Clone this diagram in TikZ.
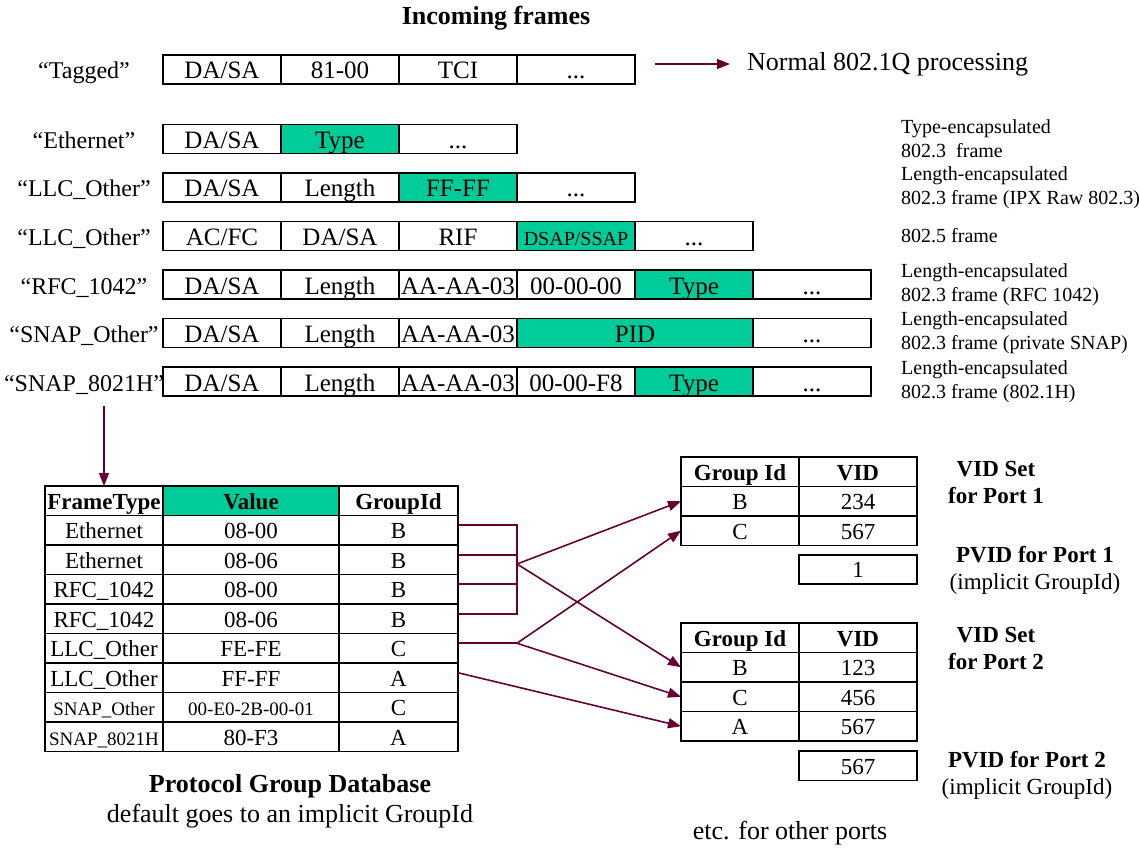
\documentclass[tikz,border=0pt]{standalone}
\usepackage{fontspec}
\setmainfont{Liberation Serif}
\usetikzlibrary{arrows.meta, positioning}
\definecolor{hlgreen}{RGB}{0,204,153}
\definecolor{wine}{RGB}{102,0,51}
\newcommand\fsz[2]{\fontsize{#1}{#2}\selectfont}

\begin{document}
\begin{tikzpicture}[x=1pt, y=-1pt, node distance=0pt,
    field/.style={draw, line width=1.8pt, outer sep=0pt, inner sep=0pt, minimum width=118pt,
      text height=24pt, text depth=5pt, font=\fsz{25}{25}},
    hl/.style={fill=hlgreen},
    lbl/.style={inner sep=0pt, text height=24pt, text depth=5pt, font=\fsz{24}{24}},
    note/.style={anchor=west, align=left, inner sep=0pt, font=\fsz{20}{24}},
    cell/.style={draw, line width=1.8pt, outer sep=0pt, inner sep=0pt, minimum width=118pt,
      text height=23pt, text depth=6.5pt, font=\fsz{23}{23}},
    head/.style={cell, font=\bfseries\fsz{23}{23}},
    side/.style={align=center, inner sep=0pt, font=\fsz{23}{27}},
    link/.style={wine, line width=1.6pt},
    arr/.style={link, -{Triangle[length=13pt, width=10pt]}}]
    \useasboundingbox (0,0) rectangle (1139,850);

    \node[font=\bfseries\fsz{26}{26}] (title) at (496,18) {Incoming frames};

    % incoming frame formats
    \node[lbl] (l-tag) at (84,69.5) {``Tagged''};
    \node[field] (tag-1) at (222,69.5) {DA/SA};
    \node[field, right=of tag-1] (tag-2) {81-00};
    \node[field, right=of tag-2] (tag-3) {TCI};
    \node[field, right=of tag-3] (tag-4) {...};
    \node[anchor=west, inner sep=0pt, font=\fsz{26}{26}] (normal) at (747,64) {Normal 802.1Q processing};
    \draw[arr, shorten <=20pt, shorten >=17pt] (tag-4.east |- normal.west) -- (normal.west);

    \node[lbl] (l-eth) at (84,139) {``Ethernet''};
    \node[field] (eth-1) at (222,139) {DA/SA};
    \node[field, hl, right=of eth-1] (eth-2) {Type};
    \node[field, right=of eth-2] (eth-3) {...};
    \node[note] (n-eth) at (901,139) {Type-encapsulated\\802.3\ \ frame};

    \node[lbl] (l-raw) at (84,187.5) {``LLC\_Other''};
    \node[field] (raw-1) at (222,187.5) {DA/SA};
    \node[field, right=of raw-1] (raw-2) {Length};
    \node[field, hl, right=of raw-2] (raw-3) {FF-FF};
    \node[field, right=of raw-3] (raw-4) {...};
    \node[note] (n-raw) at (901,187.5) {Length-encapsulated\\802.3 frame (IPX Raw 802.3)};

    \node[lbl] (l-tr) at (84,236) {``LLC\_Other''};
    \node[field] (tr-1) at (222,236) {AC/FC};
    \node[field, right=of tr-1] (tr-2) {DA/SA};
    \node[field, right=of tr-2] (tr-3) {RIF};
    \node[field, hl, font=\fsz{20}{20}, right=of tr-3] (tr-4) {DSAP/SSAP};
    \node[field, right=of tr-4] (tr-5) {...};
    \node[note] (n-tr) at (901,236) {802.5 frame};

    \node[lbl] (l-rfc) at (84,284.5) {``RFC\_1042''};
    \node[field] (rfc-1) at (222,284.5) {DA/SA};
    \node[field, right=of rfc-1] (rfc-2) {Length};
    \node[field, right=of rfc-2] (rfc-3) {AA-AA-03};
    \node[field, right=of rfc-3] (rfc-4) {00-00-00};
    \node[field, hl, right=of rfc-4] (rfc-5) {Type};
    \node[field, right=of rfc-5] (rfc-6) {...};
    \node[note] (n-rfc) at (901,284.5) {Length-encapsulated\\802.3 frame (RFC 1042)};

    \node[lbl] (l-snap) at (84,333) {``SNAP\_Other''};
    \node[field] (snap-1) at (222,333) {DA/SA};
    \node[field, right=of snap-1] (snap-2) {Length};
    \node[field, right=of snap-2] (snap-3) {AA-AA-03};
    \node[field, hl, minimum width=236pt, right=of snap-3] (snap-4) {PID};
    \node[field, right=of snap-4] (snap-5) {...};
    \node[note] (n-snap) at (901,333) {Length-encapsulated\\802.3 frame (private SNAP)};

    \node[lbl] (l-h) at (84,381.5) {``SNAP\_8021H''};
    \node[field] (h-1) at (222,381.5) {DA/SA};
    \node[field, right=of h-1] (h-2) {Length};
    \node[field, right=of h-2] (h-3) {AA-AA-03};
    \node[field, right=of h-3] (h-4) {00-00-F8};
    \node[field, hl, right=of h-4] (h-5) {Type};
    \node[field, right=of h-5] (h-6) {...};
    \node[note] (n-h) at (901,381.5) {Length-encapsulated\\802.3 frame (802.1H)};

    % protocol group database
    \node[head] (db-0-1) at (104,500.75) {FrameType};
    \node[head, fill=hlgreen, minimum width=176pt, right=of db-0-1] (db-0-2) {Value};
    \node[head, minimum width=119pt, right=of db-0-2] (db-0-3) {GroupId};
    \foreach \ft/\val/\gid [count=\r] in {Ethernet/08-00/B, Ethernet/08-06/B,
        RFC\_1042/08-00/B, RFC\_1042/08-06/B, LLC\_Other/FE-FE/C, LLC\_Other/FF-FF/A,
        {\fsz{19}{19}SNAP\_Other}/{\fsz{19}{19}00-E0-2B-00-01}/C, {\fsz{19}{19}SNAP\_8021H}/80-F3/A} {
      \node[cell] (db-\r-1) at (104,{500.75+29.5*\r}) {\ft};
      \node[cell, minimum width=176pt, right=of db-\r-1] (db-\r-2) {\val};
      \node[cell, minimum width=119pt, right=of db-\r-2] (db-\r-3) {\gid};
    }
    \node[align=center, inner sep=0pt, font=\fsz{26}{30}] (dbcap) at (290,801)
      {\textbf{Protocol Group Database}\\default goes to an implicit GroupId};
    \coordinate (drop) at (104,406);
    \draw[arr] (drop) -- (db-0-1.north);

    % VID set and PVID, port 1
    \node[head] (p1-0-1) at (740,471.75) {Group Id};
    \node[head, right=of p1-0-1] (p1-0-2) {VID};
    \foreach \gid/\vid [count=\r] in {B/234, C/567} {
      \node[cell] (p1-\r-1) at (740,{471.75+29.5*\r}) {\gid};
      \node[cell, right=of p1-\r-1] (p1-\r-2) {\vid};
    }
    \node[cell] (pv1) at (858,569.5) {1};
    \node[side, font=\bfseries\fsz{23}{27}] (s1) at (996,482.5) {VID Set\\for Port 1};
    \node[side] (t1) at (1035,570.5) {\textbf{PVID for Port 1}\\(implicit GroupId)};

    % VID set and PVID, port 2
    \node[head] (p2-0-1) at (740,637.75) {Group Id};
    \node[head, right=of p2-0-1] (p2-0-2) {VID};
    \foreach \gid/\vid [count=\r] in {B/123, C/456, A/567} {
      \node[cell] (p2-\r-1) at (740,{637.75+29.5*\r}) {\gid};
      \node[cell, right=of p2-\r-1] (p2-\r-2) {\vid};
    }
    \node[cell] (pv2) at (858,765.75) {567};
    \node[side, font=\bfseries\fsz{23}{27}] (s2) at (996,648.5) {VID Set\\for Port 2};
    \node[side] (t2) at (1027,775) {\textbf{PVID for Port 2}\\(implicit GroupId)};

    \node[font=\fsz{26}{26}] (etc) at (790,833) {etc. for other ports};

    % group mapping
    \coordinate (jb) at (517,564);
    \coordinate (jc) at ([yshift=5pt]db-5-3.east -| jb);
    \draw[link] ([yshift=5pt]db-1-3.east) -| ([yshift=5pt]db-4-3.east -| jb) -- ([yshift=5pt]db-4-3.east);
    \draw[link] ([yshift=5pt]db-2-3.east) -- ++(59,0);
    \draw[link] ([yshift=5pt]db-3-3.east) -- ++(59,0);
    \draw[link] ([yshift=5pt]db-5-3.east) -- (jc);
    \draw[arr] (jb) -- (p1-1-1.west);
    \draw[arr] (jb) -- (p2-1-1.west);
    \draw[arr] (jc) -- (p1-2-1.west);
    \draw[arr] (jc) -- (p2-2-1.west);
    \draw[arr] ([yshift=5pt]db-6-3.east) -- (p2-3-1.west);
\end{tikzpicture}
\end{document}
